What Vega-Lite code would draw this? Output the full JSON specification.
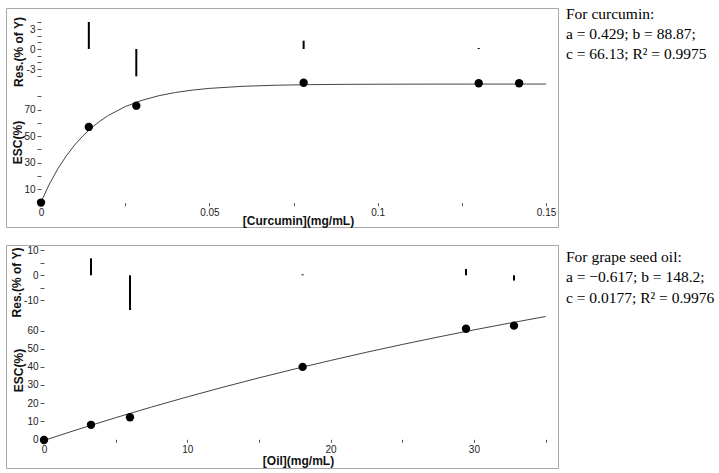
{
  "$schema": "https://vega.github.io/schema/vega-lite/v6.json",
  "padding": {"left": 5, "top": 7, "right": 0, "bottom": 0},
  "background": "white",
  "config": {
    "view": {"stroke": "#a8a8a8", "strokeWidth": 1},
    "axis": {
      "grid": false, "domain": false,
      "labelFont": "Liberation Sans", "labelFontSize": 10, "labelColor": "#222",
      "tickColor": "#555", "tickSize": 4, "labelPadding": 2,
      "titleFont": "Liberation Sans", "titleFontSize": 12, "titleFontWeight": "bold", "titleColor": "#111",
      "labelFlush": false, "labelOverlap": false
    }
  },
  "datasets": {
    "cur_pts": [{"x": 0, "y": 0}, {"x": 0.0142, "y": 57}, {"x": 0.0283, "y": 73}, {"x": 0.078, "y": 90.3}, {"x": 0.130, "y": 89.9}, {"x": 0.142, "y": 89.9}],
    "cur_res": [{"x": 0.0142, "res": 4.05}, {"x": 0.0283, "res": -4.1}, {"x": 0.078, "res": 1.25}, {"x": 0.130, "res": 0.15}],
    "cur_fit": [
      {"x": 0, "y": 0.43}, {"x": 0.0025, "y": 13.97}, {"x": 0.005, "y": 25.46}, {"x": 0.0075, "y": 35.18},
      {"x": 0.01, "y": 43.42}, {"x": 0.0125, "y": 50.42}, {"x": 0.015, "y": 56.34}, {"x": 0.0175, "y": 61.37},
      {"x": 0.02, "y": 65.62}, {"x": 0.025, "y": 72.29}, {"x": 0.03, "y": 77.08}, {"x": 0.035, "y": 80.52},
      {"x": 0.04, "y": 82.99}, {"x": 0.045, "y": 84.77}, {"x": 0.05, "y": 86.04}, {"x": 0.06, "y": 87.62},
      {"x": 0.07, "y": 88.43}, {"x": 0.08, "y": 88.85}, {"x": 0.09, "y": 89.07}, {"x": 0.1, "y": 89.18},
      {"x": 0.12, "y": 89.27}, {"x": 0.15, "y": 89.3}
    ],
    "cur_note": [{"line": 1, "note": "For curcumin:"}, {"line": 2, "note": "a = 0.429; b = 88.87;"}, {"line": 3, "note": "c = 66.13; R² = 0.9975"}],
    "oil_pts": [{"x": 0, "y": -0.4}, {"x": 3.28, "y": 8}, {"x": 6.0, "y": 12.2}, {"x": 18.05, "y": 40}, {"x": 29.45, "y": 61.1}, {"x": 32.8, "y": 62.8}],
    "oil_res": [{"x": 3.28, "res": 6.8}, {"x": 6.0, "res": -13.9}, {"x": 18.05, "res": 0.4}, {"x": 29.45, "res": 2.5}, {"x": 32.8, "res": -2.1}],
    "oil_fit": [
      {"x": 0, "y": -0.62}, {"x": 2.5, "y": 5.8}, {"x": 5, "y": 11.93}, {"x": 7.5, "y": 17.81}, {"x": 10, "y": 23.42},
      {"x": 12.5, "y": 28.8}, {"x": 15, "y": 33.94}, {"x": 17.5, "y": 38.86}, {"x": 20, "y": 43.56}, {"x": 22.5, "y": 48.07},
      {"x": 25, "y": 52.38}, {"x": 27.5, "y": 56.49}, {"x": 30, "y": 60.44}, {"x": 32.5, "y": 64.21}, {"x": 35, "y": 67.82}
    ],
    "oil_note": [{"line": 1, "note": "For grape seed oil:"}, {"line": 2, "note": "a = −0.617; b = 148.2;"}, {"line": 3, "note": "c = 0.0177; R² = 0.9976"}],
    "one": [{}]
  },
  "vconcat": [
    {
      "hconcat": [
        {
          "width": 552, "height": 219,
          "resolve": {"scale": {"y": "independent"}, "axis": {"y": "independent"}},
          "encoding": {
            "x": {
              "field": "x", "type": "quantitative",
              "scale": {"domain": [-0.0104, 0.15355], "nice": false, "zero": false},
              "axis": {
                "title": "[Curcumin](mg/mL)", "orient": "bottom", "offset": -24.4,
                "values": [0, 0.025, 0.05, 0.075, 0.1, 0.125, 0.15],
                "labelExpr": "datum.value == 0 ? '0' : datum.value == 0.05 ? '0.05' : datum.value == 0.1 ? '0.1' : datum.value == 0.15 ? '0.15' : ''",
                "tickSize": 3, "titleX": 292, "titleY": 18, "titleAlign": "center", "titleBaseline": "middle"
              }
            }
          },
          "layer": [
            {
              "encoding": {
                "y": {
                  "field": "y", "type": "quantitative",
                  "scale": {"domain": [-18.4, 146.6], "nice": false, "zero": false},
                  "axis": {
                    "title": "ESC(%)", "orient": "left", "offset": -35,
                    "values": [0, 10, 20, 30, 40, 50, 60, 70, 80],
                    "labelExpr": "datum.value == 10 || datum.value == 30 || datum.value == 50 || datum.value == 70 ? datum.label : ''",
                    "titleX": -24, "titleY": 134, "titleAngle": -90, "titleAlign": "center", "titleBaseline": "middle"
                  }
                }
              },
              "layer": [
                {"data": {"name": "cur_fit"}, "mark": {"type": "line", "color": "#444", "strokeWidth": 1}},
                {"data": {"name": "cur_pts"}, "mark": {"type": "circle", "color": "black", "size": 70, "opacity": 1}},
                {"data": {"name": "one"}, "mark": {"type": "rule", "color": "#666", "strokeWidth": 1},
                 "encoding": {"x": {"datum": 0}, "x2": {"datum": 0.15}, "y": {"datum": 0}}},
                {"data": {"name": "one"}, "mark": {"type": "rule", "color": "#666", "strokeWidth": 1},
                 "encoding": {"x": {"datum": 0.15}, "y": {"datum": 0}, "y2": {"datum": 136.1}}}
              ]
            },
            {
              "encoding": {
                "y": {
                  "field": "res", "type": "quantitative",
                  "scale": {"domain": [-26.7, 6.15], "nice": false, "zero": false},
                  "axis": {
                    "title": "Res.(% of Y)", "orient": "left", "offset": -35,
                    "values": [-4, -3, -2, -1, 0, 1, 2, 3, 4],
                    "labelExpr": "datum.value == 3 ? '3' : datum.value == 0 ? '0' : datum.value == -3 ? '-3' : ''",
                    "titleX": -23, "titleY": 43.5, "titleAngle": -90, "titleAlign": "center", "titleBaseline": "middle"
                  }
                }
              },
              "layer": [
                {"data": {"name": "cur_res"}, "mark": {"type": "rule", "color": "black", "strokeWidth": 2},
                 "encoding": {"y2": {"datum": 0}}},
                {"data": {"name": "one"}, "mark": {"type": "rule", "color": "#666", "strokeWidth": 1},
                 "encoding": {"x": {"datum": 0}, "x2": {"datum": 0.15}, "y": {"datum": 4.05}}}
              ]
            }
          ]
        },
        {
          "width": 150, "height": 219, "view": {"stroke": null},
          "data": {"name": "cur_note"},
          "mark": {"type": "text", "align": "left", "baseline": "middle", "font": "Liberation Serif", "fontSize": 15.5, "color": "#000"},
          "encoding": {
            "x": {"datum": 0, "type": "quantitative", "scale": {"domain": [0, 1]}, "axis": null},
            "y": {"field": "line", "type": "quantitative", "scale": {"domain": [0.7, 11.65], "reverse": true, "nice": false, "zero": false}, "axis": null},
            "text": {"field": "note", "type": "nominal"}
          }
        }
      ],
      "spacing": 7
    },
    {
      "hconcat": [
        {
          "width": 552, "height": 223,
          "resolve": {"scale": {"y": "independent"}, "axis": {"y": "independent"}},
          "encoding": {
            "x": {
              "field": "x", "type": "quantitative",
              "scale": {"domain": [-2.652, 35.87], "nice": false, "zero": false},
              "axis": {
                "title": "[Oil](mg/mL)", "orient": "bottom", "offset": -28.7,
                "values": [0, 5, 10, 15, 20, 25, 30, 35],
                "labelExpr": "datum.value % 10 == 0 ? datum.label : ''",
                "tickSize": 3, "titleX": 292, "titleY": 20.7, "titleAlign": "center", "titleBaseline": "middle"
              }
            }
          },
          "layer": [
            {
              "encoding": {
                "y": {
                  "field": "y", "type": "quantitative",
                  "scale": {"domain": [-15.86, 107.35], "nice": false, "zero": false},
                  "axis": {
                    "title": "ESC(%)", "orient": "left", "offset": -38,
                    "values": [0, 10, 20, 30, 40, 50, 60],
                    "titleX": -26, "titleY": 125, "titleAngle": -90, "titleAlign": "center", "titleBaseline": "middle"
                  }
                }
              },
              "layer": [
                {"data": {"name": "oil_fit"}, "mark": {"type": "line", "color": "#444", "strokeWidth": 1}},
                {"data": {"name": "oil_pts"}, "mark": {"type": "circle", "color": "black", "size": 70, "opacity": 1}},
                {"data": {"name": "one"}, "mark": {"type": "rule", "color": "#666", "strokeWidth": 1},
                 "encoding": {"x": {"datum": 0}, "x2": {"datum": 35}, "y": {"datum": 0}}},
                {"data": {"name": "one"}, "mark": {"type": "rule", "color": "#666", "strokeWidth": 1},
                 "encoding": {"x": {"datum": 35}, "y": {"datum": 0}, "y2": {"datum": 104.6}}}
              ]
            },
            {
              "encoding": {
                "y": {
                  "field": "res", "type": "quantitative",
                  "scale": {"domain": [-77.08, 12.12], "nice": false, "zero": false},
                  "axis": {
                    "title": "Res.(% of Y)", "orient": "left", "offset": -38,
                    "values": [-10, -5, 0, 5, 10],
                    "labelExpr": "datum.value == 10 ? '10' : datum.value == 0 ? '0' : datum.value == -10 ? '-10' : ''",
                    "titleX": -28, "titleY": 37, "titleAngle": -90, "titleAlign": "center", "titleBaseline": "middle"
                  }
                }
              },
              "layer": [
                {"data": {"name": "oil_res"}, "mark": {"type": "rule", "color": "black", "strokeWidth": 2},
                 "encoding": {"y2": {"datum": 0}}},
                {"data": {"name": "one"}, "mark": {"type": "rule", "color": "#666", "strokeWidth": 1},
                 "encoding": {"x": {"datum": 0}, "x2": {"datum": 35}, "y": {"datum": 10.1}}}
              ]
            }
          ]
        },
        {
          "width": 150, "height": 223, "view": {"stroke": null},
          "data": {"name": "oil_note"},
          "mark": {"type": "text", "align": "left", "baseline": "middle", "font": "Liberation Serif", "fontSize": 15.5, "color": "#000"},
          "encoding": {
            "x": {"datum": 0, "type": "quantitative", "scale": {"domain": [0, 1]}, "axis": null},
            "y": {"field": "line", "type": "quantitative", "scale": {"domain": [0.439, 11.317], "reverse": true, "nice": false, "zero": false}, "axis": null},
            "text": {"field": "note", "type": "nominal"}
          }
        }
      ],
      "spacing": 7
    }
  ],
  "spacing": 16
}
